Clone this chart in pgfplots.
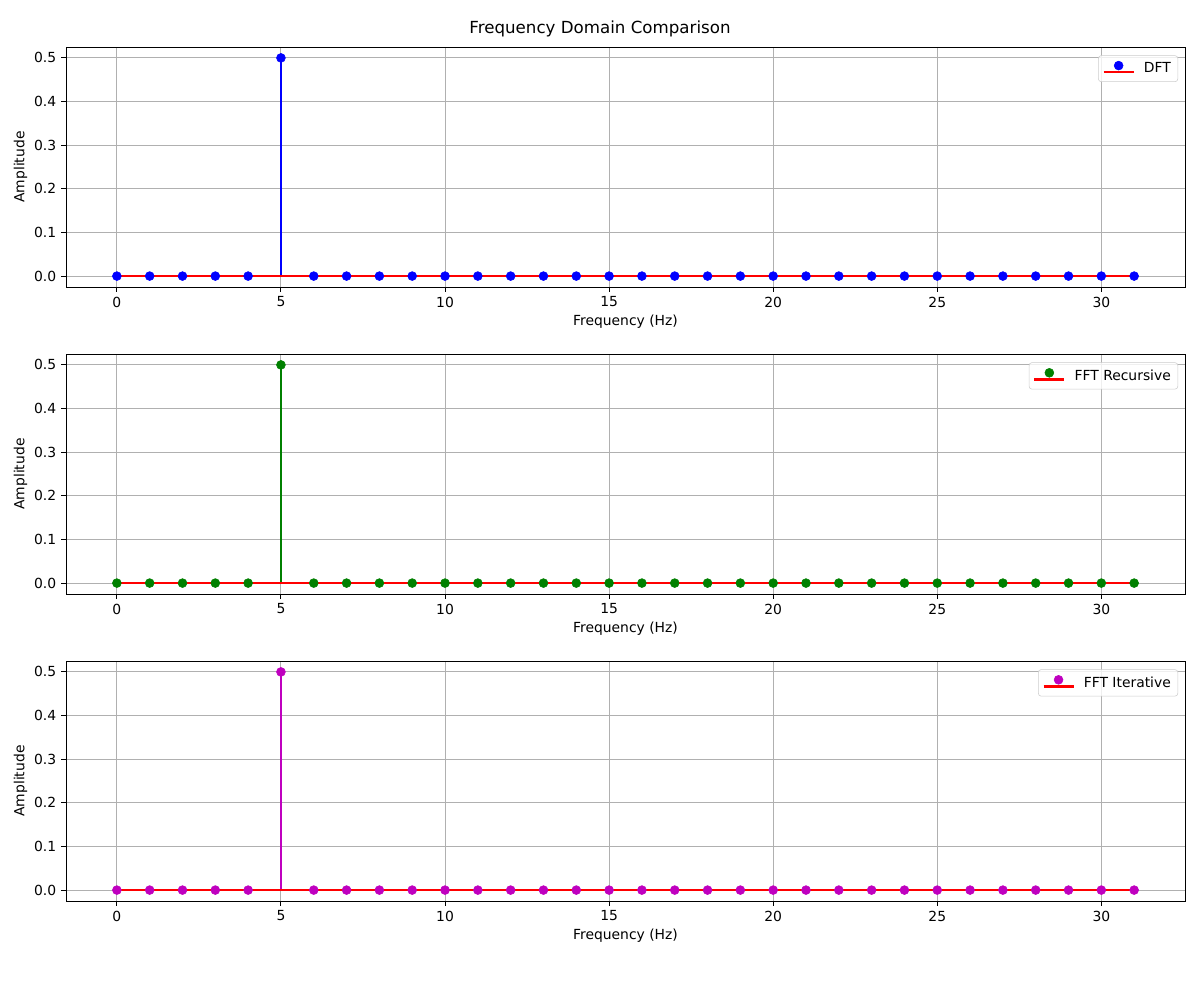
\documentclass[border=0pt]{standalone}
\usepackage{pgfplots}
\pgfplotsset{compat=1.18}
\usepackage{pgfplotstable}
\usepackage{fontspec}
\setmainfont{DejaVu Sans}
\definecolor{gridgray}{HTML}{B0B0B0}
\definecolor{mplgreen}{HTML}{008000}
\definecolor{mplmag}{HTML}{BF00BF}

\pgfplotstableread{
x y
0 0
1 0
2 0
3 0
4 0
5 0.5
6 0
7 0
8 0
9 0
10 0
11 0
12 0
13 0
14 0
15 0
16 0
17 0
18 0
19 0
20 0
21 0
22 0
23 0
24 0
25 0
26 0
27 0
28 0
29 0
30 0
31 0
}\dfttable
\pgfplotstableread{
x y
0 0
1 0
2 0
3 0
4 0
5 0.5
6 0
7 0
8 0
9 0
10 0
11 0
12 0
13 0
14 0
15 0
16 0
17 0
18 0
19 0
20 0
21 0
22 0
23 0
24 0
25 0
26 0
27 0
28 0
29 0
30 0
31 0
}\fftrtable
\pgfplotstableread{
x y
0 0
1 0
2 0
3 0
4 0
5 0.5
6 0
7 0
8 0
9 0
10 0
11 0
12 0
13 0
14 0
15 0
16 0
17 0
18 0
19 0
20 0
21 0
22 0
23 0
24 0
25 0
26 0
27 0
28 0
29 0
30 0
31 0
}\fftitable

\pgfplotsset{
  stemaxis/.style={
    anchor=south west,
    scale only axis,
    width=805.68pt,
    height=172.8pt,
    xmin=-1.55, xmax=32.55,
    ymin=-0.025, ymax=0.525,
    xtick={0,5,10,15,20,25,30},
    ytick={0,0.1,0.2,0.3,0.4,0.5},
    yticklabel style={/pgf/number format/.cd,fixed,fixed zerofill,precision=1},
    /pgf/number format/assume math mode=true,
    tick label style={font=\fontsize{10}{12}\selectfont, black},
    label style={font=\fontsize{10}{12}\selectfont},
    xlabel={Frequency (Hz)},
    ylabel={Amplitude},
    xlabel style={yshift=1pt},
    ylabel style={yshift=-2pt},
    grid=major,
    major grid style={gridgray, line width=0.7pt},
    axis line style={line width=0.65pt, black},
    tick style={line width=0.65pt, black},
    tick align=outside,
    major tick length=3.5pt,
    xtick pos=bottom, ytick pos=left,
    legend style={at={(1,1)}, anchor=north east, xshift=-5pt, yshift=-6pt,
      draw=black!20, rounded corners=2pt, fill=white, fill opacity=0.8, text opacity=1,
      font=\fontsize{10}{12}\selectfont, inner xsep=3pt, inner ysep=3pt},
    legend cell align=left,
  }
}

\begin{document}
\begin{tikzpicture}
\path[use as bounding box] (0,0) rectangle (864pt,707.04pt);
\node[font=\fontsize{12}{14}\selectfont] at (432pt,686pt) {Frequency Domain Comparison};

% DFT
\begin{axis}[stemaxis, at={(47.52pt,500.4pt)}]
\addlegendimage{legend image code/.code={
  \path[draw=none,fill=none] (0pt,-0.1pt) rectangle (27pt,0.1pt);
  \draw[red,line width=1.5pt,draw opacity=1] (0pt,-2.6pt) -- (21.6pt,-2.6pt);
  \fill[blue,fill opacity=1] (10.8pt,2.2pt) circle (3.2pt);}}
\addlegendentry{DFT}
\addplot[blue, line width=1.5pt, ycomb, no marks, forget plot] table[x=x,y=y] {\dfttable};
\addplot[blue, only marks, mark=*, mark size=3.2pt, forget plot] table[x=x,y=y] {\dfttable};
\addplot[red, line width=1.5pt, no marks, forget plot] coordinates {(0,0) (31,0)};
\end{axis}

% FFT Recursive
\begin{axis}[stemaxis, at={(47.52pt,279.36pt)}]
\addlegendimage{legend image code/.code={
  \path[draw=none,fill=none] (0pt,-0.1pt) rectangle (27pt,0.1pt);
  \draw[red,line width=1.5pt,draw opacity=1] (0pt,-2.6pt) -- (21.6pt,-2.6pt);
  \fill[mplgreen,fill opacity=1] (10.8pt,2.2pt) circle (3.2pt);}}
\addlegendentry{FFT Recursive}
\addplot[mplgreen, line width=1.5pt, ycomb, no marks, forget plot] table[x=x,y=y] {\fftrtable};
\addplot[mplgreen, only marks, mark=*, mark size=3.2pt, forget plot] table[x=x,y=y] {\fftrtable};
\addplot[red, line width=1.5pt, no marks, forget plot] coordinates {(0,0) (31,0)};
\end{axis}

% FFT Iterative
\begin{axis}[stemaxis, at={(47.52pt,58.32pt)}]
\addlegendimage{legend image code/.code={
  \path[draw=none,fill=none] (0pt,-0.1pt) rectangle (27pt,0.1pt);
  \draw[red,line width=1.5pt,draw opacity=1] (0pt,-2.6pt) -- (21.6pt,-2.6pt);
  \fill[mplmag,fill opacity=1] (10.8pt,2.2pt) circle (3.2pt);}}
\addlegendentry{FFT Iterative}
\addplot[mplmag, line width=1.5pt, ycomb, no marks, forget plot] table[x=x,y=y] {\fftitable};
\addplot[mplmag, only marks, mark=*, mark size=3.2pt, forget plot] table[x=x,y=y] {\fftitable};
\addplot[red, line width=1.5pt, no marks, forget plot] coordinates {(0,0) (31,0)};
\end{axis}
\end{tikzpicture}
\end{document}
